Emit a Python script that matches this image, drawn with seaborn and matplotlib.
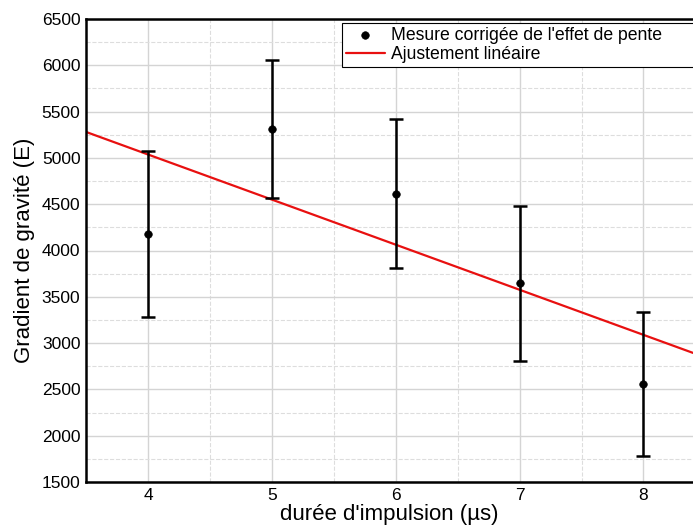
import numpy as np
import pandas as pd
import seaborn as sns
import matplotlib.pyplot as plt
from matplotlib.ticker import MultipleLocator

# measured points (pulse duration in us, gradient in E)
durations = [4, 5, 6, 7, 8]
gradients = [4180, 5315, 4615, 3645, 2560]
errors = [895, 745, 800, 840, 775]

# linear fit
fit_slope = -487
fit_intercept = 6985
fit_x = [3.5, 8.4]

sns.set_style("white")
plt.rcParams['font.family'] = ['Liberation Sans', 'DejaVu Sans']
plt.rcParams['text.color'] = 'black'
plt.rcParams['xtick.color'] = 'black'
plt.rcParams['ytick.color'] = 'black'
plt.rcParams['axes.labelcolor'] = 'black'

fig = plt.figure(figsize=(6.93, 5.27), dpi=100)
ax = fig.add_axes([86 / 693, 45 / 527, 1 - 86 / 693, 463 / 527])

df = pd.DataFrame({'duree': durations, 'gradient': gradients, 'err': errors})
fit = pd.DataFrame({'x': fit_x})
fit['y'] = fit_slope * fit['x'] + fit_intercept

ax.errorbar(df['duree'], df['gradient'], yerr=df['err'], fmt='none',
            ecolor='black', elinewidth=1.8, capsize=5, capthick=1.8, zorder=3)
sns.scatterplot(data=df, x='duree', y='gradient', color='black', s=30,
                edgecolor='black', ax=ax, zorder=4,
                label="Mesure corrigée de l'effet de pente")
sns.lineplot(data=fit, x='x', y='y', color='#e81010', linewidth=1.6, ax=ax,
             zorder=2, label='Ajustement linéaire')

ax.set_xlim(3.5, 8.4)
ax.set_ylim(1500, 6500)
ax.xaxis.set_major_locator(MultipleLocator(1))
ax.xaxis.set_minor_locator(MultipleLocator(0.5))
ax.yaxis.set_major_locator(MultipleLocator(500))
ax.yaxis.set_minor_locator(MultipleLocator(250))
ax.grid(which='major', color='#d4d4d4', linewidth=1.0, linestyle='-')
ax.grid(which='minor', color='#dddddd', linewidth=0.8, linestyle='--')
ax.set_axisbelow(True)

for side in ['left', 'bottom', 'top']:
    ax.spines[side].set_linewidth(1.8)
    ax.spines[side].set_color('black')
ax.spines['right'].set_visible(False)

ax.tick_params(axis='both', which='major', labelsize=12.5, length=0, pad=4)
ax.tick_params(axis='both', which='minor', length=0)
ax.set_xlabel("durée d'impulsion (µs)", fontsize=16, labelpad=1)
ax.set_ylabel('Gradient de gravité (E)', fontsize=16, labelpad=5)

# legend box runs past the right edge of the figure, as in the original
x0 = (342 - 86) / 607
y_top = (482 - 23) / 463
leg = ax.legend(loc='upper left', bbox_to_anchor=(x0, y_top - 0.2, (705 - 342) / 607, 0.2),
                mode='expand', fontsize=12.7, frameon=True, fancybox=False,
                borderpad=0.22, labelspacing=0.12, handlelength=2.2,
                handletextpad=0.35, borderaxespad=0.0)
leg.get_frame().set_edgecolor('black')
leg.get_frame().set_linewidth(0.8)
leg.get_frame().set_alpha(1.0)

fig.savefig('out.png', dpi=100)
